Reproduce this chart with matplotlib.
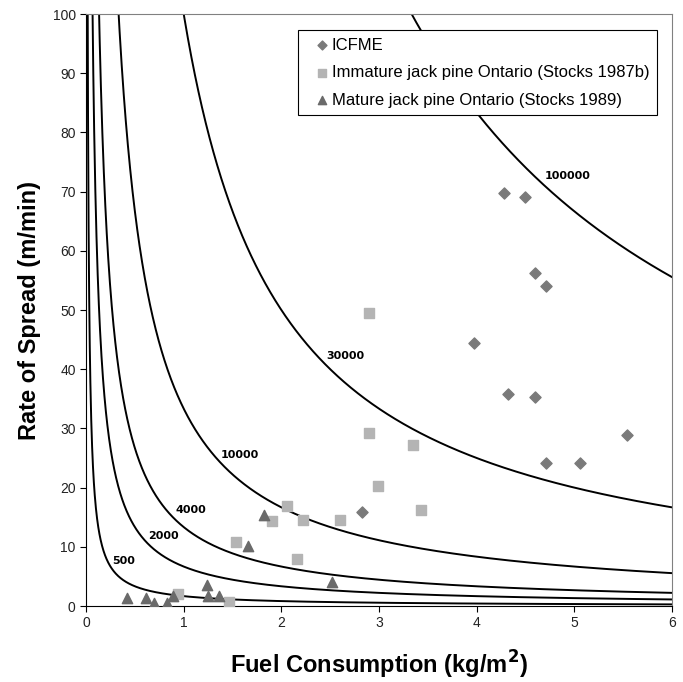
import numpy as np
import matplotlib
matplotlib.use('Agg')
from matplotlib import pyplot as plt

plt.rcParams['font.family'] = ['Liberation Sans', 'DejaVu Sans']

# fireline intensity isolines (kW/m), Byram: I = H * w * r / 60, H = 18000 kJ/kg
intensities = [500, 2000, 4000, 10000, 30000, 100000]
label_pos = [(0.38, 7.6), (0.79, 11.9), (1.07, 16.2), (1.57, 25.5), (2.65, 42.2), (4.93, 72.7)]
heat_yield = 18000

icfme_x = [2.83, 3.97, 4.32, 4.60, 5.54, 4.71, 5.06, 4.28, 4.49, 4.60, 4.71]
icfme_y = [15.8, 44.5, 35.9, 35.3, 28.9, 24.1, 24.1, 69.8, 69.1, 56.2, 54.1]

immature_x = [0.94, 1.46, 1.54, 1.90, 2.06, 2.22, 2.16, 2.60, 2.90, 2.90, 2.99, 3.35, 3.43]
immature_y = [2.1, 0.6, 10.8, 14.4, 16.9, 14.5, 7.9, 14.5, 49.5, 29.3, 20.2, 27.2, 16.3]

mature_x = [0.42, 0.61, 0.70, 0.83, 0.89, 1.24, 1.25, 1.36, 1.66, 1.82, 2.52]
mature_y = [1.3, 1.4, 0.45, 0.45, 1.7, 3.5, 1.7, 1.7, 10.2, 15.3, 4.1]

fig = plt.figure(figsize=(6.83, 6.82), dpi=100)
ax = fig.add_axes([0.126, 0.1114, 0.858, 0.868])

w = np.linspace(0.005, 6, 2000)
for I, (lx, ly) in zip(intensities, label_pos):
    r = I * 60 / (heat_yield * w)
    ax.plot(w, r, color='black', lw=1.4, zorder=2)
    ax.text(lx, ly, str(I), fontsize=8, fontweight='bold', ha='center', va='center',
            zorder=4, family='DejaVu Sans')

ax.scatter(icfme_x, icfme_y, marker='D', s=32, color='#7a7a7a', zorder=3, label='ICFME')
ax.scatter(immature_x, immature_y, marker='s', s=50, color='#b4b4b4', zorder=3,
           label='Immature jack pine Ontario (Stocks 1987b)')
ax.scatter(mature_x, mature_y, marker='^', s=55, color='#6a6a6a', zorder=3,
           label='Mature jack pine Ontario (Stocks 1989)')

ax.set_xlim(0, 6)
ax.set_ylim(0, 100)
ax.set_xticks(range(0, 7))
ax.set_yticks(range(0, 101, 10))
ax.tick_params(direction='out', length=4, labelsize=10, colors='black', labelcolor='#222222')
ax.spines['top'].set_color('#808080')
ax.spines['right'].set_color('#808080')

ax.set_xlabel('Fuel Consumption (kg/m$^{\\mathbf{2}}$)', fontsize=17, fontweight='bold', labelpad=13)
ax.set_ylabel('Rate of Spread (m/min)', fontsize=17, fontweight='bold', labelpad=8)

leg = ax.legend(loc='upper right', bbox_to_anchor=(0.974, 0.973), fontsize=12,
                fancybox=False, edgecolor='black', framealpha=1, handletextpad=-0.4,
                handlelength=2.0, borderpad=0.45, labelspacing=0.75, markerscale=0.8,
                borderaxespad=0)
leg.get_frame().set_linewidth(0.8)

fig.savefig('out.png', dpi=100)
